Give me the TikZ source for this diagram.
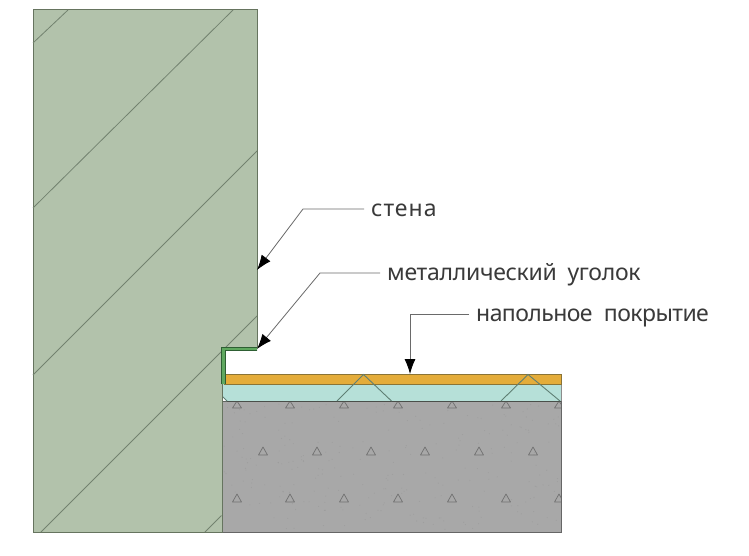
\documentclass[tikz,border=0pt]{standalone}
\usepackage{fontspec}
\setmainfont{Noto Sans}
\usetikzlibrary{arrows.meta}
\definecolor{wallfill}{HTML}{B2C2AB}
\definecolor{walledge}{HTML}{66745F}
\definecolor{hatchc}{HTML}{73826F}
\definecolor{concrete}{HTML}{A8A8A8}
\definecolor{concedge}{HTML}{4A4F4A}
\definecolor{screed}{HTML}{B6E0D8}
\definecolor{lining}{HTML}{E4AC3A}
\definecolor{liningedge}{HTML}{8A7436}
\definecolor{angfill}{HTML}{5FA85F}
\definecolor{angedge}{HTML}{2E5F33}
\definecolor{trembed}{HTML}{5F7F74}
\definecolor{tricol}{HTML}{707070}
\definecolor{leader}{HTML}{6A6A6A}
\definecolor{textc}{HTML}{3A3A3A}
\tikzset{
  x=1pt,y=-1pt,
  wallshape/.style={fill=wallfill,draw=walledge,line width=1pt,line join=miter},
  hatchline/.style={draw=hatchc,line width=.8pt},
  smalltri/.style={draw=tricol,line width=.7pt,line join=round},
  bigtri/.style={draw=trembed,line width=.9pt},
  leaderline/.style={draw=leader,line width=.8pt,-{Latex[length=15pt,width=11pt,black]}},
  calloutlabel/.style={anchor=west,inner xsep=7pt,inner ysep=0pt,text height=15pt,text depth=0pt,text=textc,font=\fontsize{23}{26}\selectfont},
}
\begin{document}
\begin{tikzpicture}
\useasboundingbox[fill=white] (0,0) rectangle (749,556);
% concrete slab
\fill[concrete] (222,401) rectangle (561,532);
\pgfmathsetseed{4242}
\foreach \i in {1,...,260}{
  \pgfmathsetmacro{\px}{224+rnd*335}
  \pgfmathsetmacro{\py}{404+rnd*126}
  \fill[black!45,opacity=.35] (\px,\py) circle (.55);
}
\begin{scope}
  \clip (222,401) rectangle (561,532);
  \foreach \tx in {237,290,344,398,452,506,559}{
    \draw[smalltri] (\tx,401) -- (\tx+4.5,408) -- (\tx-4.5,408) -- cycle;
    \draw[smalltri] (\tx,494) -- (\tx+4.5,502) -- (\tx-4.5,502) -- cycle;
  }
  \foreach \tx in {263,317,371,425,479,533}{
    \draw[smalltri] (\tx,447) -- (\tx+4.5,455) -- (\tx-4.5,455) -- cycle;
  }
\end{scope}
\draw[concedge,line width=.9pt] (222,401) -- (222,532);
\draw[draw=black!60,line width=.8pt] (222,532) -- (561,532) -- (561,401);
% screed
\fill[screed] (222,384) rectangle (561,401);
\draw[draw=concedge,line width=.9pt] (222,401) -- (561,401);
\draw[draw=black!45,line width=.7pt] (561,384) -- (561,401);
\fill[white] (222,396) -- (227,401) -- (222,401) -- cycle;
\draw[bigtri] (222,396) -- (227,401);
% lining
\fill[lining] (224,374.5) rectangle (561,384);
\draw[draw=liningedge,line width=.9pt] (224,374.5) -- (561,374.5) -- (561,384) -- (224,384);
% embedded triangles
\draw[bigtri] (337,401) -- (363.5,374.5) -- (391.5,401);
\draw[bigtri] (501,401) -- (528,374.5) -- (560,401);
% wall
\draw[wallshape] (33,10) -- (257,10) -- (257,347) -- (222,347) -- (222,532) -- (33,532) -- cycle;
\draw[hatchline] (33,43) -- (68,10);
\draw[hatchline] (33,208) -- (233,10);
\draw[hatchline] (33,375) -- (257,151);
\draw[hatchline] (41,532) -- (257,316);
\draw[hatchline] (205,532) -- (221.5,515.5);
% metal angle
\fill[angfill] (221.5,347) -- (257,347) -- (257,350.5) -- (225.5,350.5) -- (225.5,384) -- (221.5,384) -- cycle;
\draw[angedge,line width=.6pt] (221.5,384) -- (221.5,347) -- (257,347) (257,350.5) -- (225.5,350.5) -- (225.5,384);
% labels
\node[calloutlabel] (wallLabel) at (364,209) {\addfontfeature{LetterSpace=4.3}стена};
\node[calloutlabel] (angleLabel) at (380,273) {\addfontfeature{LetterSpace=-1.3}металлический\hspace{5pt} уголок};
\node[calloutlabel] (floorLabel) at (469,314) {\addfontfeature{LetterSpace=-2.5}напольное\hspace{6pt} покрытие};
% anchor points of the leaders
\coordinate (wallElbow) at (303,209);
\coordinate (wallTip) at (257,270);
\coordinate (angleElbow) at (320,273);
\coordinate (angleTip) at (257,349);
\coordinate (floorElbow) at (410,314);
\coordinate (floorTip) at (410,374);
\draw[leaderline] (wallLabel.west) -- (wallElbow) -- (wallTip);
\draw[leaderline] (angleLabel.west) -- (angleElbow) -- (angleTip);
\draw[leaderline] (floorLabel.west) -- (floorElbow) -- (floorTip);
\end{tikzpicture}
\end{document}
